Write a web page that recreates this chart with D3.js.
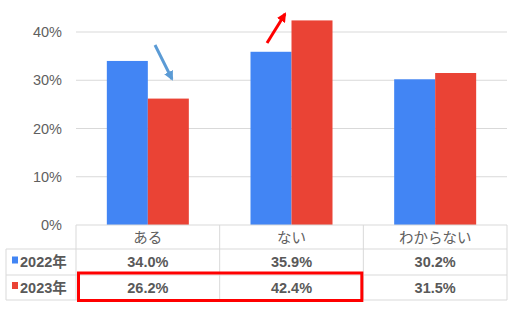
<!DOCTYPE html>
<html><head><meta charset="utf-8">
<script src="https://cdn.jsdelivr.net/npm/d3@7"></script>
<style>body{margin:0;background:#fff}svg{display:block}</style>
</head><body>
<script>
const categories = ["ある", "ない", "わからない"];
const seriesNames = ["2022年", "2023年"];
const values2022 = [34.0, 35.9, 30.2];
const values2023 = [26.2, 42.4, 31.5];
const yTicks = [0, 10, 20, 30, 40];
const colors = ["#4285F4", "#EA4335"];

const W = 516, H = 313;
const svg = d3.select("body").append("svg").attr("width", W).attr("height", H);
const font = "'Liberation Sans', Arial, 'Noto Sans CJK JP', sans-serif";
const jfont = "'Noto Sans CJK JP', sans-serif";
const fs = 14.5;
const plotLeft = 76, plotRight = 507, plotTop = 32, plotBottom = 225;

const x = d3.scaleBand().domain(categories).range([plotLeft, plotRight]).paddingInner(0).paddingOuter(0);
const y = d3.scaleLinear().domain([0, 40]).range([plotBottom, plotTop]);
const sub = d3.scaleBand().domain(seriesNames).range([0, 82]);
const offset = (x.bandwidth() - 82) / 2;

// gridlines
svg.append("g").selectAll("line").data(yTicks.filter(d => d > 0)).join("line")
  .attr("x1", plotLeft).attr("x2", plotRight).attr("y1", d => y(d)).attr("y2", d => y(d))
  .attr("stroke", "#d9d9d9").attr("stroke-width", 1);

// y axis labels
svg.append("g").selectAll("text").data(yTicks).join("text")
  .attr("x", 62).attr("y", d => y(d)).attr("dy", "0.35em").attr("text-anchor", "end")
  .attr("font-family", font).attr("font-size", fs).attr("fill", "#5f5f5f")
  .text(d => d + "%");

const series = [values2022, values2023];
series.forEach((vals, si) => {
  svg.append("g").selectAll("rect").data(categories).join("rect")
    .attr("x", c => x(c) + offset + sub(seriesNames[si]))
    .attr("width", sub.bandwidth())
    .attr("y", (c, i) => y(vals[i]))
    .attr("height", (c, i) => y(0) - y(vals[i]))
    .attr("fill", colors[si]);
});

// table
const rowY = [225, 249, 275, 300];
const tg = svg.append("g").attr("stroke", "#d9d9d9").attr("stroke-width", 1).attr("fill", "none");
tg.append("line").attr("x1", plotLeft).attr("x2", plotRight).attr("y1", rowY[0]).attr("y2", rowY[0]);
for (let r = 1; r < 4; r++) {
  tg.append("line").attr("x1", 6).attr("x2", plotRight).attr("y1", rowY[r]).attr("y2", rowY[r]);
}
tg.append("line").attr("x1", 6).attr("x2", 6).attr("y1", rowY[1]).attr("y2", rowY[3]);
[plotLeft, ...categories.map(c => x(c) + x.bandwidth())].forEach(xx => {
  tg.append("line").attr("x1", xx).attr("x2", xx).attr("y1", rowY[0]).attr("y2", rowY[3]);
});

// header labels
svg.append("g").selectAll("text").data(categories).join("text")
  .attr("x", c => x(c) + x.bandwidth() / 2).attr("y", (rowY[0] + rowY[1]) / 2 + 1)
  .attr("dy", "0.35em").attr("text-anchor", "middle")
  .attr("font-family", jfont).attr("font-size", fs).attr("fill", "#5f5f5f")
  .text(c => c);

// rows
series.forEach((vals, si) => {
  const cy = (rowY[si + 1] + rowY[si + 2]) / 2;
  svg.append("rect").attr("x", 12).attr("y", cy - 5.5).attr("width", 6).attr("height", 7).attr("fill", colors[si]);
  svg.append("text").attr("x", 20).attr("y", cy).attr("dy", "0.35em")
    .attr("font-family", font).attr("font-size", fs).attr("font-weight", "bold").attr("fill", "#595959")
    .text(seriesNames[si]);
  svg.append("g").selectAll("text").data(categories).join("text")
    .attr("x", c => x(c) + x.bandwidth() / 2).attr("y", cy).attr("dy", "0.35em").attr("text-anchor", "middle")
    .attr("font-family", font).attr("font-size", fs).attr("font-weight", "bold").attr("fill", "#595959")
    .text((c, i) => vals[i].toFixed(1) + "%");
});

// highlight box
svg.append("rect").attr("x", 78.5).attr("y", 273).attr("width", x(categories[2]) - 80).attr("height", 27.5)
  .attr("fill", "none").attr("stroke", "#ff0000").attr("stroke-width", 3);

// arrows
const defs = svg.append("defs");
function marker(id, color) {
  defs.append("marker").attr("id", id).attr("viewBox", "0 0 10 10").attr("refX", 8).attr("refY", 5)
    .attr("markerWidth", 3.2).attr("markerHeight", 3.2).attr("orient", "auto")
    .append("path").attr("d", "M0,0 L10,5 L0,10 z").attr("fill", color);
}
marker("ab", "#5B9BD5");
marker("ar", "#ff0000");
svg.append("line").attr("x1", 155).attr("y1", 45).attr("x2", 172).attr("y2", 79)
  .attr("stroke", "#5B9BD5").attr("stroke-width", 3).attr("marker-end", "url(#ab)");
svg.append("line").attr("x1", 267).attr("y1", 43).attr("x2", 285).attr("y2", 14)
  .attr("stroke", "#ff0000").attr("stroke-width", 3).attr("marker-end", "url(#ar)");
</script>
</body></html>
